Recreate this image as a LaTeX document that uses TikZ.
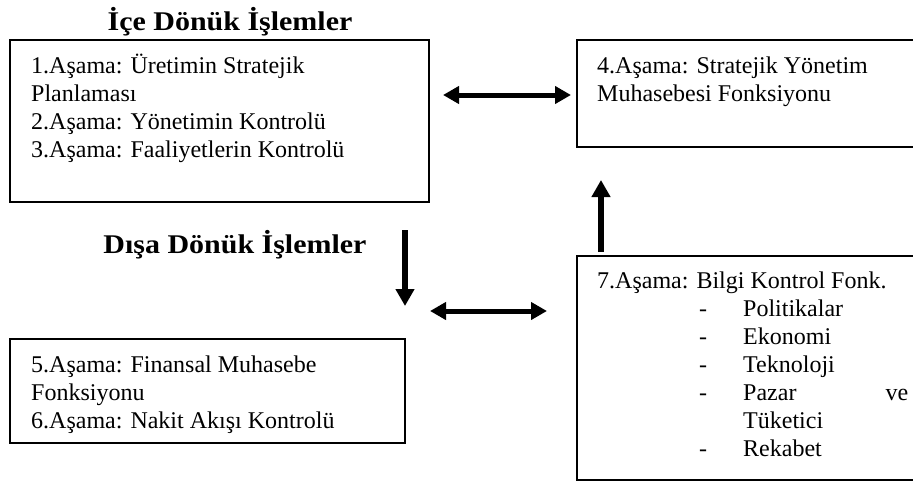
\documentclass[tikz,border=0pt]{standalone}
\usepackage{fontspec}
\setmainfont{Liberation Serif}
\newfontfamily\headfont[FakeStretch=1.11]{Liberation Serif}
\usetikzlibrary{arrows.meta}
\newcommand\dashitem{\makebox[146pt][l]{\hspace*{102pt}-}}
\tikzset{
  box/.style={draw, line width=1.8pt, anchor=north west, inner sep=0pt, outer sep=0pt},
  txt/.style={anchor=base west, inner sep=0pt, font=\fontsize{24}{28}\selectfont},
  head/.style={anchor=base, inner sep=0pt, font=\headfont\bfseries\fontsize{27}{32}\selectfont},
  bigarrow/.style={line width=5.5pt, -{Triangle[length=17pt,width=18pt]}},
  dblarrow/.style={line width=5pt, {Triangle[length=16pt,width=17pt]}-{Triangle[length=16pt,width=17pt]}},
}
\begin{document}
\begin{tikzpicture}[x=1pt,y=-1pt]
\useasboundingbox (0,0) rectangle (913,482);
% headings
\node[head] (h1) at (230,30) {İçe Dönük İşlemler};
\node[head] (h2) at (235,253) {Dışa Dönük İşlemler};
% boxes
\node[box, minimum width=419pt, minimum height=162pt] (b1) at (10,40) {};
\node[box, minimum width=360pt, minimum height=107pt] (b4) at (577,40) {};
\node[box, minimum width=395pt, minimum height=104pt] (b5) at (10,339) {};
\node[box, minimum width=360pt, minimum height=224pt] (b7) at (577,256) {};
% texts
\node[txt] (t1) at (31,73) {\parbox[t]{390pt}{\raggedright
  1.Aşama: Üretimin Stratejik\\
  Planlaması\\
  2.Aşama: Yönetimin Kontrolü\\
  3.Aşama: Faaliyetlerin Kontrolü}};
\node[txt] (t4) at (597,73) {\parbox[t]{310pt}{\raggedright
  4.Aşama: Stratejik Yönetim\\
  Muhasebesi Fonksiyonu}};
\node[txt] (t5) at (31,372) {\parbox[t]{370pt}{\raggedright
  5.Aşama: Finansal Muhasebe\\
  Fonksiyonu\\
  6.Aşama: Nakit Akışı Kontrolü}};
\node[txt] (t7) at (597,288) {\parbox[t]{310pt}{\raggedright
  7.Aşama: Bilgi Kontrol Fonk.\\
  \dashitem Politikalar\\
  \dashitem Ekonomi\\
  \dashitem Teknoloji\\
  \dashitem Pazar\hspace*{89pt}ve\\
  \hspace*{146pt}Tüketici\\
  \dashitem Rekabet}};
% arrow ends
\coordinate (a1l) at (443,95);
\coordinate (a1r) at (571,95);
\coordinate (a2b) at (601,252);
\coordinate (a2t) at (601,180);
\coordinate (a3t) at (405,230);
\coordinate (a3b) at (405,306);
\coordinate (a4l) at (430,311);
\coordinate (a4r) at (547,311);
% arrows
\draw[dblarrow] (a1l) -- (a1r);
\draw[bigarrow] (a2b) -- (a2t);
\draw[bigarrow] (a3t) -- (a3b);
\draw[dblarrow] (a4l) -- (a4r);
\end{tikzpicture}
\end{document}
